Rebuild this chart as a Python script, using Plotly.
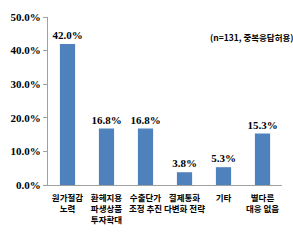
import plotly.graph_objects as go

categories = ["원가절감<br>노력", "환헤지용<br>파생상품<br>투자확대", "수출단가<br>조정 추진",
              "결제통화<br>다변화 전략", "기타", "별다른<br>대응 없음"]
values = [0.420, 0.168, 0.168, 0.038, 0.053, 0.153]
labels = ["42.0%", "16.8%", "16.8%", "3.8%", "5.3%", "15.3%"]
tick_vals = [0, 0.1, 0.2, 0.3, 0.4, 0.5]
tick_text = ["0.0%", "10.0%", "20.0%", "30.0%", "40.0%", "50.0%"]
note = "(n=131, 중복응답허용)"

fig = go.Figure(go.Bar(
    x=categories, y=values, text=labels, textposition="outside",
    constraintext="none",
    marker=dict(color="#4F81BD", line=dict(width=0)),
    textfont=dict(family="Liberation Sans Narrow", size=11, color="#000000", weight="bold"),
    cliponaxis=False, width=0.39,
))
fig.update_layout(
    width=293, height=247,
    margin=dict(l=33, r=11, t=15, b=62),
    plot_bgcolor="white", paper_bgcolor="white",
    showlegend=False,
    font=dict(family="Noto Sans CJK KR", color="#000000"),
)
fig.update_yaxes(range=[0, 0.5], tickvals=tick_vals, ticktext=tick_text,
                 showgrid=False, showline=True, linecolor="#A0A0A0", linewidth=1,
                 ticks="outside", ticklen=4, tickcolor="#A0A0A0",
                 tickfont=dict(family="Liberation Sans Narrow", size=11, color="#000000", weight="bold"),
                 zeroline=False)
fig.update_xaxes(showline=True, linecolor="#A0A0A0", linewidth=1, ticks="",
                 tickangle=0, ticklabelstandoff=5,
                 tickfont=dict(family="Noto Sans CJK KR", size=8.5, color="#000000", weight="bold"))
fig.add_annotation(text=note, xref="paper", yref="paper", x=0.87, y=0.88,
                   showarrow=False, xanchor="center", yanchor="middle",
                   font=dict(family="Noto Sans CJK KR", size=8.5, color="#000000", weight="bold"))
fig.write_html("out.html")
